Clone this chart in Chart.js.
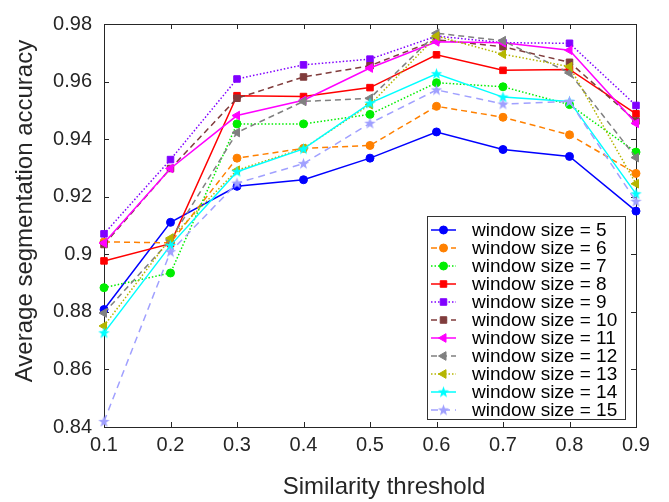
<!DOCTYPE html>
<html>
<head>
<meta charset="utf-8">
<title>Average segmentation accuracy</title>
<script src="https://cdn.jsdelivr.net/npm/chart.js@4.4.1/dist/chart.umd.min.js"></script>
<style>
  body { margin: 0; background: #fff; }
  #wrap { width: 669px; height: 502px; }
</style>
</head>
<body>
<div id="wrap"><canvas id="myChart" width="669" height="502"></canvas></div>
<script>
// x axis: similarity threshold
const thresholds = [0.1, 0.2, 0.3, 0.4, 0.5, 0.6, 0.7, 0.8, 0.9];
const yTicks = [0.84, 0.86, 0.88, 0.9, 0.92, 0.94, 0.96, 0.98];
const windowSizes = [5, 6, 7, 8, 9, 10, 11, 12, 13, 14, 15];

// accuracy per window size
const acc5  = [0.8808, 0.9111, 0.9236, 0.9259, 0.9334, 0.9425, 0.9364, 0.9340, 0.9150];
const acc6  = [0.9043, 0.9040, 0.9334, 0.9368, 0.9378, 0.9514, 0.9476, 0.9415, 0.9281];
const acc7  = [0.8884, 0.8935, 0.9453, 0.9453, 0.9486, 0.9596, 0.9582, 0.9520, 0.9355];
const acc8  = [0.8977, 0.9037, 0.9551, 0.9548, 0.9579, 0.9693, 0.9639, 0.9642, 0.9488];
const acc9  = [0.9071, 0.9329, 0.9609, 0.9658, 0.9678, 0.9758, 0.9735, 0.9733, 0.9517];
const acc10 = [0.9034, 0.9298, 0.9542, 0.9616, 0.9655, 0.9745, 0.9721, 0.9667, 0.9463];
const acc11 = [0.9039, 0.9298, 0.9482, 0.9535, 0.9647, 0.9738, 0.9735, 0.9709, 0.9455];
const acc12 = [0.8796, 0.9050, 0.9423, 0.9531, 0.9542, 0.9768, 0.9742, 0.9630, 0.9336];
const acc13 = [0.8751, 0.9056, 0.9292, 0.9368, 0.9520, 0.9758, 0.9695, 0.9652, 0.9245];
const acc14 = [0.8727, 0.9031, 0.9287, 0.9366, 0.9525, 0.9627, 0.9546, 0.9531, 0.9210];
const acc15 = [0.8419, 0.9009, 0.9247, 0.9315, 0.9455, 0.9571, 0.9522, 0.9531, 0.9184];

const series = [acc5, acc6, acc7, acc8, acc9, acc10, acc11, acc12, acc13, acc14, acc15];

const FONT = 'Liberation Sans, Arial, Helvetica, sans-serif';
const INK = '#262626';

// five pointed star marker (matlab 'p')
function makeStar(color) {
    const c = document.createElement('canvas');
    c.width = 13; c.height = 13;
    const g = c.getContext('2d');
    g.fillStyle = color;
    g.beginPath();
    for (let k = 0; k < 10; k++) {
        const r = k % 2 ? 2.4 : 6;
        const a = -Math.PI / 2 + k * Math.PI / 5;
        g.lineTo(6.5 + r * Math.cos(a), 6.8 + r * Math.sin(a));
    }
    g.closePath();
    g.fill();
    return c;
}

const dashed = [6, 4];
const dotted = [1.5, 2];
const styles = [
    { color: '#0000ff', dash: [],     marker: 'circle',   radius: 4 },
    { color: '#ff8000', dash: dashed, marker: 'circle',   radius: 4 },
    { color: '#00ee00', dash: dotted, marker: 'circle',   radius: 4 },
    { color: '#ff0000', dash: [],     marker: 'rect',     radius: 4.6 },
    { color: '#8000ff', dash: dotted, marker: 'rect',     radius: 4.6 },
    { color: '#803c3c', dash: dashed, marker: 'rect',     radius: 4.6 },
    { color: '#ff00ff', dash: [],     marker: 'triangle', radius: 5, rotation: -90 },
    { color: '#808080', dash: dashed, marker: 'triangle', radius: 5, rotation: -90 },
    { color: '#b5b500', dash: dotted, marker: 'triangle', radius: 5, rotation: -90 },
    { color: '#00ffff', dash: [],     marker: 'star',     radius: 6 },
    { color: '#a0a0ff', dash: [7, 5], marker: 'star',     radius: 6 }
];
styles.forEach(s => { if (s.marker === 'star') s.marker = makeStar(s.color); });

const datasets = series.map((vals, i) => {
    const s = styles[i];
    return {
        label: 'window size = ' + windowSizes[i],
        data: vals.map((v, j) => ({ x: thresholds[j], y: v })),
        borderColor: s.color,
        backgroundColor: s.color,
        borderWidth: 1.5,
        borderDash: s.dash,
        pointStyle: s.marker,
        pointRadius: s.radius,
        pointRotation: s.rotation || 0,
        pointBorderWidth: 1,
        pointBackgroundColor: s.color,
        pointBorderColor: s.color,
        tension: 0,
        clip: false,
        order: 100 - i
    };
});

// box around the axes with inward ticks, like matlab
const frame = {
    id: 'frame',
    beforeDatasetsDraw(chart) {
        const { ctx, chartArea: a, scales: { x, y } } = chart;
        ctx.save();
        ctx.strokeStyle = INK;
        ctx.lineWidth = 1;
        ctx.strokeRect(Math.round(a.left) + 0.5, Math.round(a.top) + 0.5,
            Math.round(a.right - a.left), Math.round(a.bottom - a.top));
        ctx.beginPath();
        thresholds.forEach(t => {
            const px = Math.round(x.getPixelForValue(t)) + 0.5;
            ctx.moveTo(px, a.bottom); ctx.lineTo(px, a.bottom - 5);
            ctx.moveTo(px, a.top); ctx.lineTo(px, a.top + 5);
        });
        yTicks.forEach(t => {
            const py = Math.round(y.getPixelForValue(t)) + 0.5;
            ctx.moveTo(a.left, py); ctx.lineTo(a.left + 5, py);
            ctx.moveTo(a.right, py); ctx.lineTo(a.right - 5, py);
        });
        ctx.stroke();
        ctx.restore();
    },
    afterDraw(chart) {
        const ctx = chart.ctx;
        ctx.save();
        ctx.fillStyle = INK;
        ctx.font = '24px ' + FONT;
        ctx.textAlign = 'center';
        ctx.textBaseline = 'middle';
        ctx.fillText('Similarity threshold', 384, 487);
        ctx.translate(25, 211);
        ctx.rotate(-Math.PI / 2);
        ctx.fillText('Average segmentation accuracy', 0, 0);
        ctx.restore();
    }
};

// legend box in the lower right corner of the axes
const legendBox = {
    id: 'legendBox',
    afterDraw(chart) {
        const ctx = chart.ctx;
        const x0 = 427, y0 = 216, w = 198, h = 203;
        ctx.save();
        ctx.fillStyle = '#fff';
        ctx.fillRect(x0, y0, w, h);
        ctx.strokeStyle = '#333';
        ctx.lineWidth = 1;
        ctx.strokeRect(x0 + 0.5, y0 + 0.5, w, h);
        chart.data.datasets.forEach((ds, i) => {
            const yy = y0 + 14 + 18 * i;
            ctx.strokeStyle = ds.borderColor;
            ctx.fillStyle = ds.borderColor;
            ctx.lineWidth = ds.borderWidth;
            ctx.setLineDash(ds.borderDash);
            ctx.beginPath();
            ctx.moveTo(x0 + 4, yy);
            ctx.lineTo(x0 + 29, yy);
            ctx.stroke();
            ctx.setLineDash([]);
            ctx.lineWidth = 1;
            Chart.helpers.drawPoint(ctx, {
                pointStyle: ds.pointStyle,
                radius: ds.pointRadius,
                rotation: ds.pointRotation,
                borderWidth: 1
            }, x0 + 16.5, yy);
            ctx.fillStyle = '#000';
            ctx.font = '19px ' + FONT;
            ctx.textAlign = 'left';
            ctx.textBaseline = 'middle';
            ctx.fillText(ds.label, x0 + 45, yy + 1);
        });
        ctx.restore();
    }
};

const ctx = document.getElementById('myChart');
new Chart(ctx, {
    type: 'line',
    data: { datasets },
    options: {
        responsive: false,
        animation: false,
        layout: { padding: { top: 16, right: 33, left: 0, bottom: 0 } },
        plugins: {
            legend: { display: false },
            tooltip: { enabled: false }
        },
        scales: {
            x: {
                type: 'linear',
                min: 0.1,
                max: 0.9,
                afterBuildTicks: s => { s.ticks = thresholds.map(v => ({ value: v })); },
                afterFit: s => { s.height = 75; },
                grid: { display: false, drawTicks: false },
                border: { display: false },
                ticks: {
                    padding: 6,
                    color: INK,
                    font: { size: 20, family: FONT },
                    maxRotation: 0,
                    callback: v => (+v.toFixed(1)).toString()
                }
            },
            y: {
                type: 'linear',
                min: 0.84,
                max: 0.98,
                afterBuildTicks: s => { s.ticks = yTicks.map(v => ({ value: v })); },
                afterFit: s => { s.width = 104; },
                grid: { display: false, drawTicks: false },
                border: { display: false },
                ticks: {
                    padding: 12,
                    color: INK,
                    font: { size: 20, family: FONT },
                    callback: v => (+v.toFixed(2)).toString()
                }
            }
        }
    },
    plugins: [frame, legendBox]
});
</script>
</body>
</html>
